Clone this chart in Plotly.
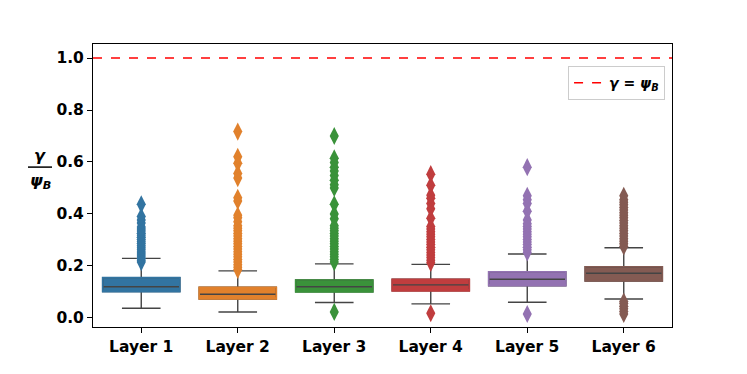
import plotly.graph_objects as go

# --- data ---
layers = ["Layer 1", "Layer 2", "Layer 3", "Layer 4", "Layer 5", "Layer 6"]
colors = ["#3274a1", "#e1812c", "#3a923a", "#c03d3e", "#9372b2", "#845b53"]

q1 = [0.101, 0.073, 0.100, 0.104, 0.124, 0.142]
median = [0.120, 0.091, 0.120, 0.127, 0.149, 0.172]
q3 = [0.155, 0.118, 0.146, 0.149, 0.177, 0.197]
whisker_lo = [0.037, 0.023, 0.059, 0.054, 0.060, 0.073]
whisker_hi = [0.229, 0.181, 0.208, 0.206, 0.246, 0.270]

outliers_l1 = [0.215, 0.222, 0.230, 0.238, 0.246, 0.254, 0.262, 0.270, 0.278, 0.286,
               0.294, 0.302, 0.310, 0.318, 0.326, 0.334, 0.342, 0.350, 0.365, 0.377,
               0.390, 0.437]
outliers_l2 = [0.185, 0.195, 0.205, 0.215, 0.225, 0.235, 0.245, 0.255, 0.265, 0.275,
               0.285, 0.295, 0.305, 0.315, 0.325, 0.335, 0.345, 0.355, 0.370, 0.385,
               0.395, 0.450, 0.462, 0.538, 0.556, 0.595, 0.620, 0.717]
outliers_l3 = [0.023, 0.215, 0.225, 0.235, 0.245, 0.255, 0.265, 0.275, 0.285, 0.295,
               0.305, 0.315, 0.325, 0.335, 0.345, 0.355, 0.382, 0.400, 0.437, 0.500,
               0.512, 0.530, 0.548, 0.565, 0.580, 0.598, 0.614, 0.700]
outliers_l4 = [0.018, 0.212, 0.222, 0.232, 0.242, 0.252, 0.262, 0.272, 0.282, 0.292,
               0.302, 0.312, 0.322, 0.332, 0.342, 0.352, 0.383, 0.420, 0.440, 0.460,
               0.472, 0.510, 0.553]
outliers_l5 = [0.015, 0.252, 0.262, 0.272, 0.282, 0.292, 0.302, 0.312, 0.322, 0.332,
               0.342, 0.352, 0.362, 0.377, 0.410, 0.440, 0.455, 0.470, 0.580]
outliers_l6 = [0.015, 0.025, 0.035, 0.045, 0.055, 0.063, 0.275, 0.285, 0.295, 0.305,
               0.315, 0.325, 0.335, 0.345, 0.355, 0.365, 0.375, 0.385, 0.395, 0.405,
               0.415, 0.425, 0.435, 0.445, 0.455, 0.470]
outliers = [outliers_l1, outliers_l2, outliers_l3, outliers_l4, outliers_l5, outliers_l6]

threshold = 1.0

fig = go.Figure()

for i, name in enumerate(layers):
    # main box: fill, gray median + whiskers
    fig.add_trace(go.Box(
        x=[i], q1=[q1[i]], median=[median[i]], q3=[q3[i]],
        lowerfence=[whisker_lo[i]], upperfence=[whisker_hi[i]],
        width=0.8, whiskerwidth=0.5, fillcolor=colors[i],
        line=dict(color="#444444", width=1.4),
        showlegend=False, hoverinfo="skip",
    ))
    # overpaint box outline with the fill colour (seaborn look)
    fig.add_trace(go.Box(
        x=[i], q1=[q1[i]], median=[q1[i]], q3=[q3[i]],
        lowerfence=[q1[i]], upperfence=[q3[i]],
        width=0.8, whiskerwidth=0, fillcolor="rgba(0,0,0,0)",
        line=dict(color=colors[i], width=1.6),
        showlegend=False, hoverinfo="skip",
    ))
    fig.add_trace(go.Scatter(
        x=[i] * len(outliers[i]), y=outliers[i], mode="markers",
        marker=dict(symbol="diamond-tall", size=13, color=colors[i], line=dict(width=0)),
        showlegend=False, hoverinfo="skip",
    ))

fig.add_trace(go.Scatter(
    x=[-0.5, 5.5], y=[threshold, threshold], mode="lines",
    line=dict(color="red", width=1.5, dash="dash"),
    name="<b><i>γ = ψ<sub>B</sub></i></b>",
))

fig.update_xaxes(
    range=[-0.5, 5.5], tickvals=list(range(len(layers))), ticktext=layers,
    ticks="outside", ticklen=5, tickcolor="black",
    showline=True, linecolor="black", linewidth=1, mirror=True,
    showgrid=False, zeroline=False,
    tickfont=dict(size=15.5, weight="bold", color="black"),
)
fig.update_yaxes(
    range=[-0.035, 1.054], tickvals=[0, 0.2, 0.4, 0.6, 0.8, 1.0], tickformat=".1f",
    ticks="outside", ticklen=5, tickcolor="black",
    showline=True, linecolor="black", linewidth=1, mirror=True,
    showgrid=False, zeroline=False,
    tickfont=dict(size=15.5, weight="bold", color="black"),
)

# fraction style y label
fig.add_annotation(text="<b><i>γ</i></b>", xref="paper", yref="paper",
                   x=-0.0915, y=0.607, xanchor="center", yanchor="middle",
                   showarrow=False, font=dict(size=16, color="black"))
fig.add_annotation(text="<b><i>ψ<sub>B</sub></i></b>", xref="paper", yref="paper",
                   x=-0.0915, y=0.515, xanchor="center", yanchor="middle",
                   showarrow=False, font=dict(size=16, color="black"))
fig.add_shape(type="line", xref="paper", yref="paper", x0=-0.1123, x1=-0.0708,
              y0=0.565, y1=0.565, line=dict(color="black", width=1.5))

# page body has an 8px margin, so offset the plot area to land where the reference has it
fig.update_layout(
    width=747, height=374,
    margin=dict(l=85, r=83, t=36, b=55),
    plot_bgcolor="white", paper_bgcolor="white",
    font=dict(family="DejaVu Sans", color="black"),
    legend=dict(x=0.988, y=0.922, xanchor="right", yanchor="top",
                bgcolor="white", bordercolor="#cccccc", borderwidth=1,
                font=dict(size=14, color="black")),
)

fig.write_html("out.html")
